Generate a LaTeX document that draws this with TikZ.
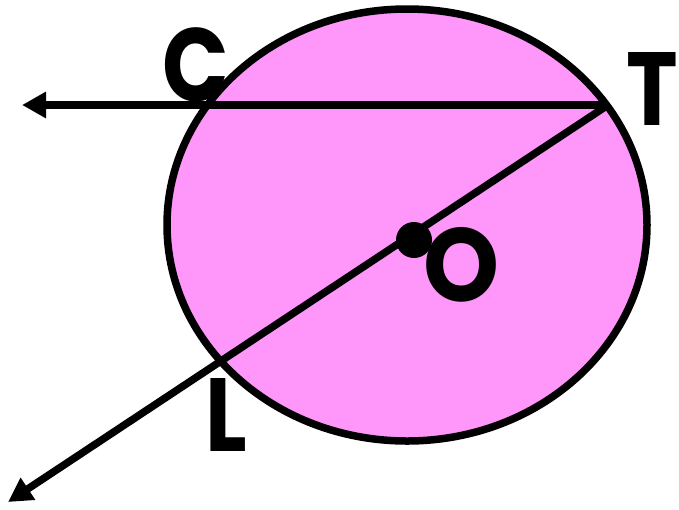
\documentclass[tikz,border=0pt]{standalone}
\usepackage{fontspec}
\newfontfamily\labfont{Poppins}[UprightFont={* Bold}]
\usetikzlibrary{arrows.meta}
\definecolor{circpink}{RGB}{255,150,250}
\newcommand{\narrowlab}[2][0.84]{\scalebox{#1}[1]{#2}}
\tikzset{
  geo/.style={line width=7.5pt},
  ray/.style={geo,-{Triangle[length=24pt,width=25pt]}},
  ptlabel/.style={inner sep=0pt,font=\labfont\fontsize{104}{104}\selectfont}
}
\begin{document}
\begin{tikzpicture}[x=1pt,y=-1pt]
\useasboundingbox (0,0) rectangle (679,509);
\draw[geo,fill=circpink] (407,225) ellipse [x radius=240,y radius=216];
\coordinate (T) at (608,105);
\coordinate (C) at (207,105);
\coordinate (L) at (221,361);
\coordinate (Oc) at (414,240);
\coordinate (endA) at (22,105);
\coordinate (endB) at (8,502);
\draw[ray] (T) -- (C) -- (endA);
\draw[ray] (T) -- (L) -- (endB);
\fill (Oc) circle[radius=18];
\node[ptlabel] (labC) at (196,65) {\narrowlab{C}};
\node[ptlabel] (labT) at (652,89) {\narrowlab{T}};
\node[ptlabel] (labO) at (462,265) {\narrowlab[0.93]{O}};
\node[ptlabel] (labL) at (226,415) {\narrowlab{L}};
\end{tikzpicture}
\end{document}
